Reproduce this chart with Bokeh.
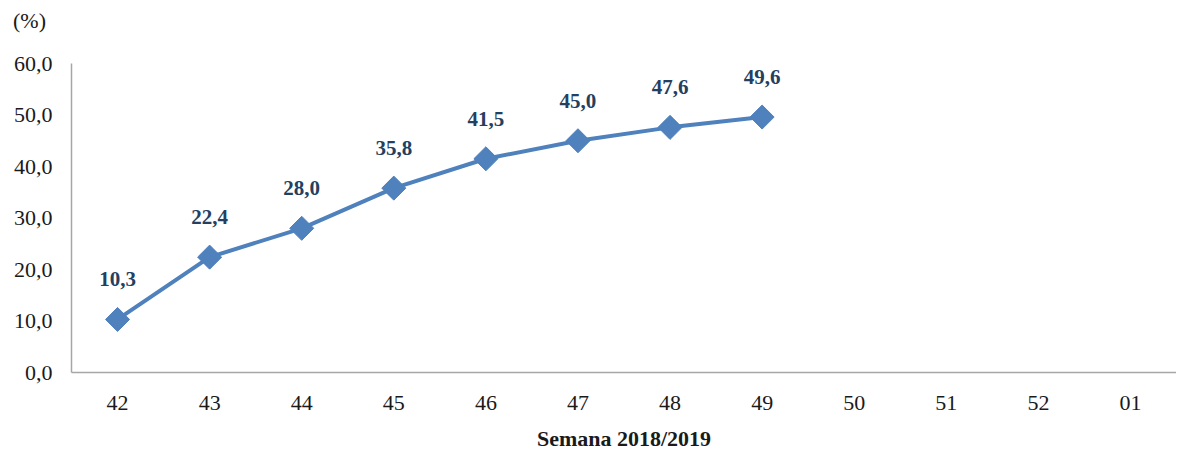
import math
from bokeh.plotting import figure
from bokeh.layouts import column
from bokeh.models import ColumnDataSource, CustomJSTickFormatter, FactorRange, Range1d, FixedTicker, Div
from bokeh.core.properties import value
from bokeh.embed import file_html
from bokeh.resources import INLINE

weeks = ["42", "43", "44", "45", "46", "47", "48", "49", "50", "51", "52", "01"]
data_weeks = ["42", "43", "44", "45", "46", "47", "48", "49"]
values = [10.3, 22.4, 28.0, 35.8, 41.5, 45.0, 47.6, 49.6]
labels = [f"{v:.1f}".replace(".", ",") for v in values]
y_ticks = [0, 10, 20, 30, 40, 50, 60]

FONT = "Liberation Serif"
LINE = "#4F81BD"
TXT = "#1a1a1a"

src = ColumnDataSource(dict(x=data_weeks, y=values, lab=labels))

unit = Div(text="(%)", width=80, height=22, margin=(10, 0, 0, 13),
           styles={"font-family": FONT, "font-size": "22px", "color": TXT,
                   "line-height": "22px", "white-space": "nowrap"})

p = figure(width=1176, height=421, output_backend="svg", toolbar_location=None,
           x_range=FactorRange(factors=weeks, range_padding=0),
           y_range=Range1d(0, 60),
           min_border_left=71, min_border_right=0, min_border_top=31, min_border_bottom=80,
           margin=(0, 0, 0, 0))
p.outline_line_color = None
p.xgrid.grid_line_color = None
p.ygrid.grid_line_color = None
p.background_fill_color = "white"

p.line("x", "y", source=src, line_color=LINE, line_width=4)
p.scatter("x", "y", source=src, marker="square", angle=math.pi / 4, size=17,
          fill_color=LINE, line_color=LINE)
p.text("x", "y", text="lab", source=src, y_offset=-40, text_align="center", text_baseline="middle",
       text_font=value(FONT), text_font_size="21px", text_font_style="bold", text_color="#243F60")

for ax in (p.xaxis[0], p.yaxis[0]):
    ax.axis_line_color = "#A6A6A6"
    ax.axis_line_width = 1.5
    ax.major_tick_line_color = None
    ax.minor_tick_line_color = None
    ax.major_tick_out = 0
    ax.major_tick_in = 0
    ax.minor_tick_out = 0
    ax.major_label_text_font = FONT
    ax.major_label_text_font_size = "22px"
    ax.major_label_text_color = TXT

p.yaxis[0].ticker = FixedTicker(ticks=y_ticks)
p.yaxis[0].formatter = CustomJSTickFormatter(code="return tick.toFixed(1).replace('.', ',');")
p.yaxis[0].major_label_standoff = 19
p.xaxis[0].major_label_standoff = 23
p.xaxis[0].axis_label = "Semana 2018/2019"
p.xaxis[0].axis_label_text_font = FONT
p.xaxis[0].axis_label_text_font_size = "22px"
p.xaxis[0].axis_label_text_font_style = "bold"
p.xaxis[0].axis_label_text_color = TXT
p.xaxis[0].axis_label_standoff = 13

layout = column(unit, p, spacing=0)
open("out.html", "w").write(file_html(layout, INLINE))
